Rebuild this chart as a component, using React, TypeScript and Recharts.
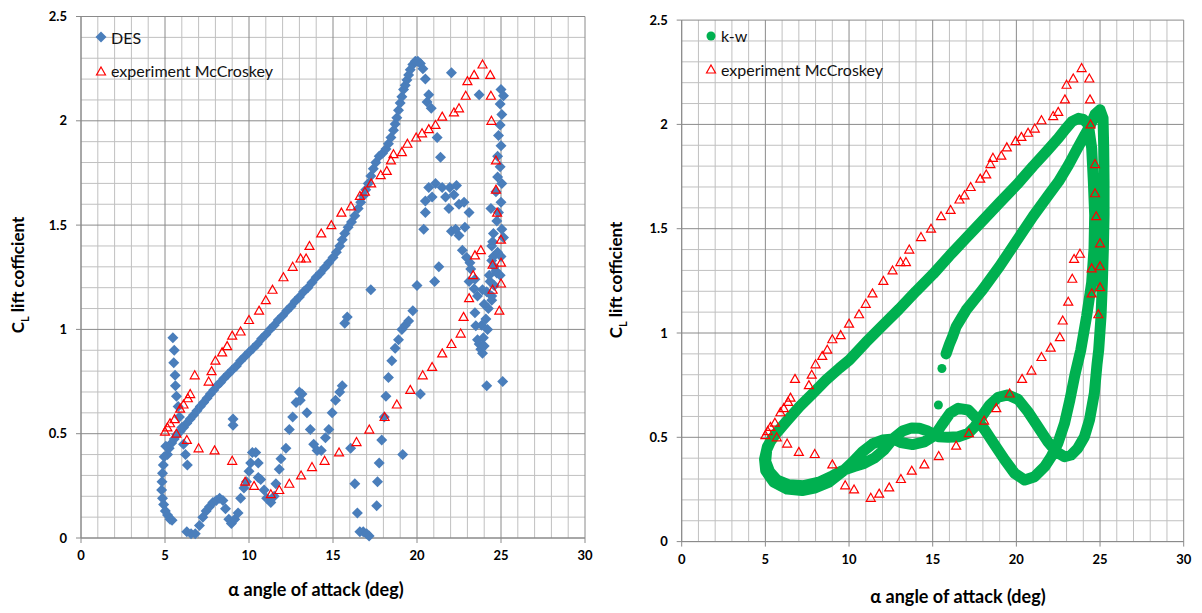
import React from 'react';
import { CartesianGrid, Scatter, ScatterChart, XAxis, YAxis } from 'recharts';

const FONT = 'Lato, "Open Sans", sans-serif';

// axis ticks and grid lines
const xMajorTicks = [0, 5, 10, 15, 20, 25, 30];
const yMajorTicks = [0, 0.5, 1, 1.5, 2, 2.5];
const xMinorLines = [1, 2, 3, 4, 6, 7, 8, 9, 11, 12, 13, 14, 16, 17, 18, 19, 21, 22, 23, 24, 26, 27, 28, 29];
const yMinorLines = [0.1, 0.2, 0.3, 0.4, 0.6, 0.7, 0.8, 0.9, 1.1, 1.2, 1.3, 1.4, 1.6, 1.7, 1.8, 1.9, 2.1, 2.2, 2.3, 2.4];

// experiment McCroskey (same in both panels)
const experimentMcCroskey = [
  [5.0, 0.51], [5.14, 0.53], [5.3, 0.55], [5.57, 0.57], [5.68, 0.5], [5.9, 0.62], [6.1, 0.64], [6.36, 0.67],
  [6.5, 0.69], [6.77, 0.78], [7.6, 0.75], [7.77, 0.8], [8.0, 0.85], [8.4, 0.89], [8.7, 0.92], [9.0, 0.97],
  [9.5, 0.99], [10.0, 1.045], [10.6, 1.09], [11.0, 1.14], [11.4, 1.19], [12.05, 1.25], [12.6, 1.3], [13.07, 1.34],
  [13.4, 1.34], [13.6, 1.4], [14.3, 1.46], [14.9, 1.5], [15.5, 1.56], [16.07, 1.59], [16.6, 1.64], [16.9, 1.66],
  [17.27, 1.7], [17.84, 1.74], [18.2, 1.76], [18.45, 1.81], [18.6, 1.84], [19.1, 1.85], [19.43, 1.89], [19.95, 1.92],
  [20.3, 1.94], [20.7, 1.96], [21.1, 1.98], [21.5, 2.02], [22.2, 2.04], [22.5, 2.06], [22.9, 2.12], [23.0, 2.19],
  [23.4, 2.22], [23.9, 2.27], [24.36, 2.22], [24.4, 2.12], [24.43, 2.0], [24.7, 1.81], [24.7, 1.67], [24.77, 1.56],
  [25.0, 1.43], [25.0, 1.32], [25.0, 1.22], [24.9, 1.09], [24.5, 1.31], [24.5, 1.19], [23.8, 1.38], [23.45, 1.355],
  [23.34, 1.26], [23.1, 1.15], [22.77, 1.06], [22.6, 0.98], [22.05, 0.93], [21.5, 0.885], [20.9, 0.82], [20.34, 0.78],
  [19.6, 0.71], [18.8, 0.64], [18.07, 0.58], [17.16, 0.52], [16.4, 0.46], [15.36, 0.41], [14.5, 0.37], [13.75, 0.34],
  [13.1, 0.3], [12.4, 0.26], [11.8, 0.23], [11.3, 0.21], [10.3, 0.25], [9.77, 0.27], [9.0, 0.37], [7.95, 0.42],
  [7.0, 0.43], [6.3, 0.47],
];

// DES (left panel)
const desMainBranch = [
  [5.15, 0.4], [5.25, 0.43], [5.4, 0.455], [5.55, 0.475], [5.7, 0.495], [5.9, 0.51], [6.1, 0.53], [6.3, 0.55],
  [6.5, 0.57], [6.7, 0.59], [6.9, 0.61], [7.1, 0.63], [7.3, 0.65], [7.5, 0.67], [7.7, 0.69], [7.9, 0.71],
  [8.1, 0.73], [8.3, 0.745], [8.5, 0.765], [8.75, 0.785], [9.0, 0.805], [9.25, 0.825], [9.5, 0.85], [9.75, 0.87],
  [10.0, 0.89], [10.25, 0.91], [10.5, 0.93], [10.75, 0.955], [11.0, 0.975], [11.25, 1.0], [11.5, 1.02], [11.75, 1.045],
  [12.0, 1.065], [12.25, 1.09], [12.5, 1.11], [12.75, 1.135], [13.0, 1.155], [13.25, 1.18], [13.5, 1.2], [13.75, 1.225],
  [14.0, 1.25], [14.25, 1.27], [14.5, 1.295], [14.75, 1.32], [15.0, 1.345], [15.2, 1.37], [15.4, 1.4], [15.55, 1.43],
  [15.7, 1.46], [15.9, 1.49], [16.1, 1.515], [16.3, 1.545], [16.5, 1.58], [16.65, 1.61], [16.8, 1.64], [16.95, 1.67],
  [17.1, 1.7], [17.25, 1.735], [17.4, 1.77], [17.55, 1.8], [17.75, 1.83], [17.95, 1.845], [18.15, 1.865], [18.3, 1.89],
  [18.45, 1.92], [18.6, 1.955], [18.7, 1.985], [18.8, 2.015], [18.9, 2.05], [19.0, 2.085], [19.1, 2.115], [19.2, 2.15],
  [19.3, 2.17], [19.4, 2.195], [19.5, 2.22], [19.6, 2.245], [19.75, 2.27], [19.9, 2.285], [20.05, 2.285], [20.2, 2.275],
  [20.35, 2.25], [20.5, 2.2],
];
const desLowAlpha = [
  [5.05, 0.44], [4.95, 0.39], [4.9, 0.35], [4.85, 0.31], [4.82, 0.27], [4.8, 0.23], [4.85, 0.19], [4.92, 0.16],
  [5.02, 0.13], [5.15, 0.11], [5.3, 0.09], [5.42, 0.085],
  [5.47, 0.96], [5.55, 0.9], [5.52, 0.84], [5.6, 0.78], [5.62, 0.73], [5.68, 0.68], [5.78, 0.63], [5.86, 0.58],
  [6.0, 0.53], [6.1, 0.45], [6.22, 0.4], [6.33, 0.35],
  [6.3, 0.03], [6.55, 0.02], [6.8, 0.02], [7.05, 0.06], [7.25, 0.1], [7.45, 0.13], [7.65, 0.15], [7.85, 0.17],
  [8.05, 0.18], [8.25, 0.19], [8.45, 0.18], [8.6, 0.14], [8.8, 0.09], [8.95, 0.07], [9.15, 0.09], [9.35, 0.12],
  [9.5, 0.19], [9.7, 0.24], [9.85, 0.27], [10.0, 0.32], [10.1, 0.36], [10.2, 0.41], [10.4, 0.41], [10.55, 0.36],
  [10.55, 0.29], [10.7, 0.28], [10.9, 0.23], [11.05, 0.19], [11.3, 0.17], [11.5, 0.2], [11.6, 0.26], [11.8, 0.33],
  [11.9, 0.38], [12.2, 0.43], [12.4, 0.52], [12.6, 0.58], [12.8, 0.65], [13.0, 0.7], [13.15, 0.69], [13.05, 0.66],
  [13.45, 0.6], [13.65, 0.52], [13.85, 0.45], [14.05, 0.42], [14.3, 0.42], [14.55, 0.48], [14.75, 0.52], [14.95, 0.6],
  [15.15, 0.66], [15.4, 0.7], [15.55, 0.73], [15.7, 1.03], [15.85, 1.06], [9.05, 0.57], [9.05, 0.54],
];
const desHighAlpha = [
  [16.3, 0.26], [16.45, 0.12], [16.6, 0.03], [16.8, 0.03], [17.0, 0.02], [17.15, 0.01], [17.6, 0.155], [17.65, 0.27],
  [17.75, 0.36], [17.9, 0.47], [18.05, 0.58], [18.15, 0.68], [18.3, 0.77], [18.5, 0.85], [18.7, 0.91], [18.9, 0.95],
  [19.1, 1.0], [19.3, 1.02], [19.5, 1.04], [19.75, 1.09], [20.0, 1.21], [16.05, 0.43], [17.25, 1.19], [19.15, 0.4],
  [20.2, 0.69], [21.3, 1.3], [21.05, 1.23],
  [20.7, 2.125], [20.6, 2.09], [20.85, 2.06], [21.2, 1.92], [21.4, 1.825], [22.05, 2.23], [23.7, 2.125],
  [20.7, 1.68], [21.1, 1.7], [21.5, 1.68], [21.95, 1.68], [20.5, 1.615], [20.9, 1.635], [21.7, 1.635], [22.2, 1.645],
  [22.5, 1.6], [21.9, 1.58], [20.5, 1.56], [20.4, 1.48], [23.1, 1.56], [22.05, 1.47], [22.5, 1.45], [22.35, 1.69],
  [22.8, 1.61], [22.3, 1.48], [22.7, 1.38], [22.95, 1.345], [23.2, 1.29], [23.1, 1.23], [23.4, 1.195], [23.6, 1.16],
  [22.85, 1.49], [23.45, 1.08], [23.5, 1.017], [23.6, 0.95], [23.8, 0.905], [23.9, 0.886], [23.7, 0.93],
  [24.45, 1.14], [24.6, 1.21], [23.9, 1.19], [23.45, 1.24], [23.15, 1.32], [24.55, 1.35], [24.75, 1.27],
  [25.0, 2.15], [25.15, 2.12], [24.95, 2.08], [25.05, 2.03], [24.95, 1.98], [24.85, 1.93], [25.0, 1.88], [24.8, 1.83],
  [24.95, 1.78], [24.8, 1.73], [25.05, 1.7], [24.7, 1.66], [25.0, 1.61], [24.85, 1.56], [24.75, 1.52], [25.05, 1.48],
  [25.15, 1.44], [24.55, 1.46], [24.45, 1.4], [24.8, 1.37], [25.0, 1.35], [24.45, 1.33], [24.7, 1.28], [24.95, 1.26],
  [24.35, 1.23], [24.15, 1.18], [24.45, 1.16], [24.25, 1.1], [24.1, 1.05], [24.2, 1.0], [24.15, 0.73], [25.1, 0.75],
  [24.4, 1.58], [24.5, 1.42], [24.6, 1.3], [24.3, 1.26], [24.0, 1.12], [23.85, 1.02], [23.95, 0.96], [24.0, 0.92],
];

// k-w (right panel): first two isolated samples, then the traced loop in time order
const kwStartDots = [[15.34, 0.655], [15.55, 0.83]];
const kwTrace = [
  // first upstroke (inner branch)
  [15.8, 0.9], [16.0, 0.946], [16.2, 0.985], [16.4, 1.03], [16.7, 1.07], [17.0, 1.11], [17.5, 1.16], [18.0, 1.21],
  [18.5, 1.265], [19.0, 1.32], [19.5, 1.38], [20.0, 1.44], [20.5, 1.5], [21.0, 1.56], [21.5, 1.615], [22.0, 1.67],
  [22.52, 1.726], [23.12, 1.806], [23.61, 1.879], [24.11, 1.952], [24.4, 1.992],
  // peak and right branch
  [24.7, 2.048], [25.0, 2.07], [25.18, 2.03], [25.22, 1.887], [25.24, 1.726], [25.24, 1.565], [25.2, 1.403],
  [25.14, 1.242], [25.06, 1.081], [24.92, 0.919], [24.82, 0.85], [24.66, 0.711], [24.37, 0.583], [24.07, 0.503],
  [23.67, 0.447], [23.27, 0.415], [22.88, 0.407], [22.38, 0.431], [21.88, 0.479], [21.29, 0.551], [20.69, 0.623],
  [20.1, 0.682], [19.5, 0.703], [18.91, 0.692], [18.41, 0.655], [17.92, 0.599], [17.52, 0.551], [17.12, 0.519],
  [16.53, 0.503], [15.93, 0.5], [15.34, 0.503], [14.7, 0.53], [14.2, 0.543], [13.75, 0.545], [13.2, 0.53],
  [12.66, 0.495], [12.1, 0.44], [11.5, 0.4], [10.9, 0.375], [10.3, 0.36], [9.6, 0.34], [9.0, 0.315],
  [8.2, 0.285], [7.3, 0.268], [6.4, 0.272], [5.7, 0.295], [5.25, 0.335], [5.02, 0.385], [5.08, 0.44],
  // outer upstroke
  [5.3, 0.48], [5.65, 0.519], [6.25, 0.575], [7.04, 0.647], [7.84, 0.711], [8.63, 0.775], [9.42, 0.831],
  [10.02, 0.871], [11.0, 0.955], [12.0, 1.035], [13.0, 1.115], [14.0, 1.2], [15.03, 1.283], [16.0, 1.37],
  [17.0, 1.455], [18.0, 1.54], [19.0, 1.625], [20.05, 1.713], [21.0, 1.8], [21.8, 1.87], [22.52, 1.935],
  [22.92, 1.976], [23.31, 2.013], [23.71, 2.029], [24.0, 2.024], [24.3, 2.0],
  // second downstroke
  [24.5, 1.887], [24.6, 1.726], [24.68, 1.565], [24.64, 1.403], [24.5, 1.242], [24.2, 1.081], [23.85, 0.919],
  [23.5, 0.8], [23.2, 0.68], [22.88, 0.567], [22.48, 0.471], [22.08, 0.407], [21.69, 0.359], [21.09, 0.311],
  [20.5, 0.295], [19.9, 0.327], [19.31, 0.391], [18.71, 0.463], [18.12, 0.535], [17.62, 0.591], [17.12, 0.631],
  [16.53, 0.639], [16.03, 0.615], [15.54, 0.559], [15.14, 0.511], [14.5, 0.478], [13.8, 0.465], [13.1, 0.475],
  [12.66, 0.492], [12.0, 0.487], [11.4, 0.468], [10.8, 0.43], [10.2, 0.38], [9.6, 0.335], [8.8, 0.285],
  [8.0, 0.258], [7.2, 0.245], [6.3, 0.252], [5.5, 0.285], [5.02, 0.34], [4.95, 0.395], [5.12, 0.455], [5.45, 0.5],
];

const toXY = (pts: number[][]) => pts.map(([x, y]) => ({ x, y }));

const GREEN = '#00b050';
const BLUE = '#4a7ebb';
const RED = '#ff0000';

const Diamond = (p: any) => (
  <polygon points={`${p.cx},${p.cy - 5.5} ${p.cx + 5.5},${p.cy} ${p.cx},${p.cy + 5.5} ${p.cx - 5.5},${p.cy}`} fill={BLUE} />
);
const Triangle = (p: any) => (
  <polygon
    points={`${p.cx},${p.cy - 4.5} ${p.cx + 4.5},${p.cy + 3.5} ${p.cx - 4.5},${p.cy + 3.5}`}
    fill="none"
    stroke={RED}
    strokeWidth={1.2}
  />
);
const Dot = (p: any) => <circle cx={p.cx} cy={p.cy} r={4.5} fill={GREEN} />;
const NoMark = () => <g />;

const tickStyle = { fontSize: 13, fontWeight: 700, fill: '#000', fontFamily: FONT };

function Panel({ margin, children }: { margin: any; children: React.ReactNode }) {
  return (
    <ScatterChart width={600} height={613} margin={margin}>
      <CartesianGrid verticalValues={xMinorLines} horizontalValues={yMinorLines} stroke="#c0c0c0" />
      <CartesianGrid verticalValues={xMajorTicks} horizontalValues={yMajorTicks} stroke="#8a8a8a" />
      <XAxis
        type="number"
        dataKey="x"
        domain={[0, 30]}
        ticks={xMajorTicks}
        interval={0}
        height={30}
        tickSize={5}
        tickMargin={8}
        stroke="#8a8a8a"
        tick={tickStyle}
      />
      <YAxis
        type="number"
        dataKey="y"
        domain={[0, 2.5]}
        ticks={yMajorTicks}
        interval={0}
        width={50}
        tickSize={5}
        tickMargin={9}
        stroke="#8a8a8a"
        tick={tickStyle}
      />
      {children}
    </ScatterChart>
  );
}

const titleStyle: React.CSSProperties = {
  position: 'absolute',
  fontFamily: FONT,
  fontWeight: 700,
  fontSize: 18,
  whiteSpace: 'nowrap',
  color: '#000',
};

function YTitle({ cx, cy }: { cx: number; cy: number }) {
  return (
    <div style={{ ...titleStyle, fontSize: 17, left: cx, top: cy, transform: 'translate(-50%, -50%) rotate(-90deg)' }}>
      C<sub style={{ fontSize: 11 }}>L</sub> lift cofficient
    </div>
  );
}

function XTitle({ cx, cy }: { cx: number; cy: number }) {
  return (
    <div style={{ ...titleStyle, left: cx, top: cy, transform: 'translate(-50%, -50%)' }}>
      α angle of attack (deg)
    </div>
  );
}

function LegendRow({ x, y, marker, label }: { x: number; y: number; marker: React.ReactNode; label: string }) {
  return (
    <div style={{ position: 'absolute', left: x - 6, top: y - 10, height: 20, display: 'flex', alignItems: 'center' }}>
      <svg width={12} height={12} style={{ marginRight: 4 }}>
        {marker}
      </svg>
      <span style={{ fontFamily: FONT, fontSize: 16, color: '#111' }}>{label}</span>
    </div>
  );
}

export default function App() {
  return (
    <div style={{ position: 'absolute', left: 0, top: 0, width: 1202, height: 613, background: '#fff' }}>
      <div style={{ position: 'absolute', left: 0, top: 0 }}>
        <Panel margin={{ top: 16.5, right: 15, bottom: 45, left: 31 }}>
          <Scatter name="DES" data={toXY([...desMainBranch, ...desLowAlpha, ...desHighAlpha])} shape={Diamond} isAnimationActive={false} />
          <Scatter name="experiment McCroskey" data={toXY(experimentMcCroskey)} shape={Triangle} isAnimationActive={false} />
        </Panel>
      </div>
      <div style={{ position: 'absolute', left: 600, top: 0 }}>
        <Panel margin={{ top: 20.1, right: 16.3, bottom: 41.4, left: 31.7 }}>
          <Scatter
            name="k-w"
            data={toXY(kwTrace)}
            line={{ stroke: GREEN, strokeWidth: 11, strokeLinejoin: 'round', strokeLinecap: 'round' }}
            shape={NoMark}
            isAnimationActive={false}
          />
          <Scatter name="k-w start" data={toXY(kwStartDots)} shape={Dot} isAnimationActive={false} />
          <Scatter name="experiment McCroskey" data={toXY(experimentMcCroskey)} shape={Triangle} isAnimationActive={false} />
        </Panel>
      </div>

      <YTitle cx={19} cy={275} />
      <XTitle cx={316} cy={589} />
      <YTitle cx={617} cy={280} />
      <XTitle cx={958} cy={596} />

      <LegendRow x={101} y={37} marker={<Diamond cx={6} cy={6} />} label="DES" />
      <LegendRow x={101} y={70.5} marker={<Triangle cx={6} cy={6.5} />} label="experiment McCroskey" />
      <LegendRow x={711} y={35.5} marker={<Dot cx={6} cy={6} />} label="k-w" />
      <LegendRow x={711} y={69} marker={<Triangle cx={6} cy={6.5} />} label="experiment McCroskey" />
    </div>
  );
}
